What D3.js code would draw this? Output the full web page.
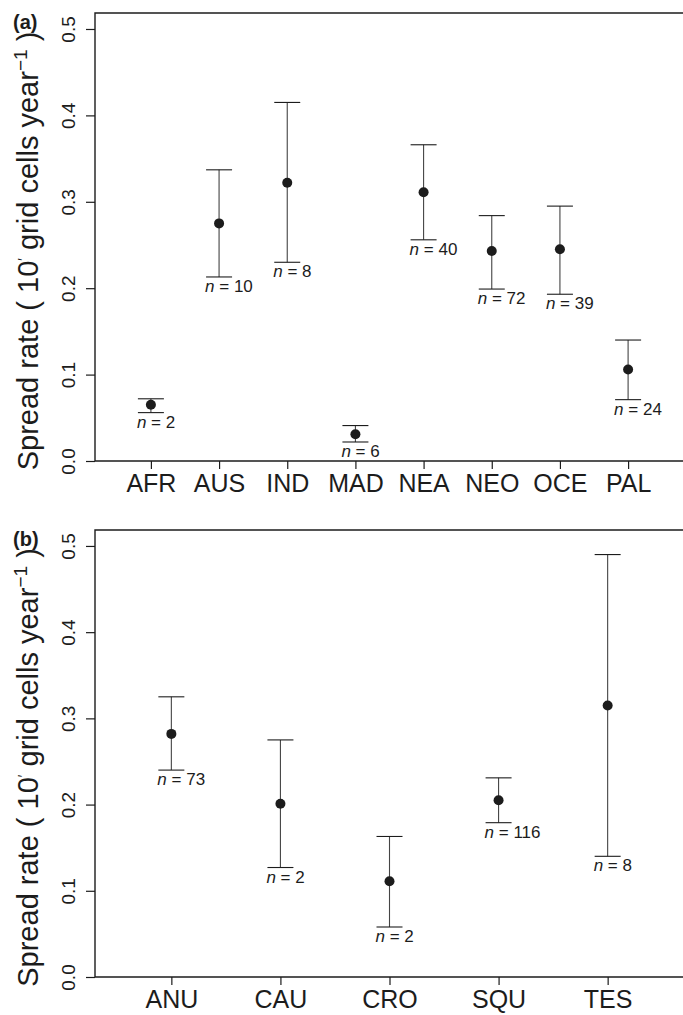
<!DOCTYPE html>
<html>
<head>
<meta charset="utf-8">
<script src="https://cdn.jsdelivr.net/npm/d3@7"></script>
<style>
  body { margin: 0; background: #fff; }
  svg { display: block; }
</style>
</head>
<body>
<div id="chart"></div>
<script>
// panel (a): biogeographic regions
const regionCats = ["AFR", "AUS", "IND", "MAD", "NEA", "NEO", "OCE", "PAL"];
const regionMean = [0.065, 0.275, 0.322, 0.031, 0.311, 0.243, 0.245, 0.106];
const regionLower = [0.056, 0.213, 0.230, 0.022, 0.256, 0.199, 0.193, 0.071];
const regionUpper = [0.072, 0.337, 0.415, 0.041, 0.366, 0.284, 0.295, 0.140];
const regionN = [2, 10, 8, 6, 40, 72, 39, 24];

// panel (b): taxonomic groups
const groupCats = ["ANU", "CAU", "CRO", "SQU", "TES"];
const groupMean = [0.282, 0.201, 0.111, 0.205, 0.315];
const groupLower = [0.240, 0.127, 0.058, 0.179, 0.140];
const groupUpper = [0.325, 0.275, 0.163, 0.231, 0.490];
const groupN = [73, 2, 2, 116, 8];

const yTicks = [0, 0.1, 0.2, 0.3, 0.4, 0.5];

const width = 683, height = 1015;
const narrow = "'Liberation Sans Narrow', 'Arial Narrow', 'Liberation Sans', Arial, sans-serif";
const sans = "'Liberation Sans', Arial, Helvetica, sans-serif";
const ink = "#1c1c1c";

const svg = d3.select("#chart").append("svg")
    .attr("width", width)
    .attr("height", height);

function panel(tag, cats, mean, lower, upper, ns, top, bottom, pad) {
    const left = 95, right = 684;
    const x = d3.scalePoint().domain(cats).range([left, right]).padding(pad);
    const y = d3.scaleLinear().domain([0, 0.5185]).range([bottom, top]);

    const g = svg.append("g");

    // frame (box cut by the right edge)
    g.append("path")
        .attr("d", "M" + (right + 5) + "," + top + "H" + left + "V" + bottom + "H" + (right + 5))
        .attr("fill", "none")
        .attr("stroke", ink)
        .attr("stroke-width", 1.4);

    // y axis
    const yAxis = g.append("g")
        .attr("transform", "translate(" + left + ",0)")
        .call(d3.axisLeft(y).tickValues(yTicks).tickSize(9).tickFormat(d3.format(".1f")));
    yAxis.select(".domain").remove();
    yAxis.selectAll(".tick line").attr("stroke", ink).attr("stroke-width", 1.2);
    yAxis.selectAll(".tick text")
        .attr("x", null).attr("dy", null)
        .attr("transform", "translate(-20,0) rotate(-90)")
        .attr("text-anchor", "middle")
        .attr("fill", ink)
        .style("font-family", narrow)
        .style("font-size", "19px");

    // x axis
    const xAxis = g.append("g")
        .attr("transform", "translate(0," + bottom + ")")
        .call(d3.axisBottom(x).tickSize(8).tickPadding(0));
    xAxis.select(".domain").remove();
    xAxis.selectAll(".tick line").attr("stroke", ink).attr("stroke-width", 1.2);
    xAxis.selectAll(".tick text")
        .attr("y", 31).attr("dy", null)
        .attr("fill", ink)
        .style("font-family", narrow)
        .style("font-size", "25px");

    const rows = cats.map((c, i) => ({ cat: c, mean: mean[i], lo: lower[i], hi: upper[i], n: ns[i] }));
    const capHalf = 13;

    const bars = g.append("g").selectAll("g").data(rows).enter().append("g");
    bars.append("line")
        .attr("x1", d => x(d.cat)).attr("x2", d => x(d.cat))
        .attr("y1", d => y(d.lo)).attr("y2", d => y(d.hi))
        .attr("stroke", "#444").attr("stroke-width", 1.1);
    bars.append("line")
        .attr("x1", d => x(d.cat) - capHalf).attr("x2", d => x(d.cat) + capHalf)
        .attr("y1", d => y(d.hi)).attr("y2", d => y(d.hi))
        .attr("stroke", ink).attr("stroke-width", 1.1);
    bars.append("line")
        .attr("x1", d => x(d.cat) - capHalf).attr("x2", d => x(d.cat) + capHalf)
        .attr("y1", d => y(d.lo)).attr("y2", d => y(d.lo))
        .attr("stroke", ink).attr("stroke-width", 1.1);
    bars.append("circle")
        .attr("cx", d => x(d.cat)).attr("cy", d => y(d.mean))
        .attr("r", 5)
        .attr("fill", ink);

    const lab = bars.append("text")
        .attr("x", d => x(d.cat) - capHalf - 1)
        .attr("y", d => y(d.lo) + 15)
        .attr("fill", ink)
        .style("font-family", sans)
        .style("font-size", "17px");
    lab.append("tspan").style("font-style", "italic").text("n");
    lab.append("tspan").text(d => " = " + d.n);

    // panel tag
    g.append("text")
        .attr("x", 13).attr("y", top + 16)
        .attr("fill", ink)
        .style("font-family", sans)
        .style("font-weight", "bold")
        .style("font-size", "20px")
        .text(tag);

    // y title, centred on the plot region
    const mid = y(0.25) + 6;
    const title = g.append("text")
        .attr("transform", "translate(38," + mid + ") rotate(-90)")
        .attr("text-anchor", "middle")
        .attr("fill", ink)
        .style("font-family", narrow)
        .style("font-size", "29px");
    title.append("tspan").text("Spread rate ( 10");
    title.append("tspan").attr("dy", -10).style("font-size", "14px").text("′");
    title.append("tspan").attr("dy", 10).text(" grid cells year");
    title.append("tspan").attr("dy", -11).style("font-size", "19px").text("−1");
    title.append("tspan").attr("dy", 11).text(" )");
}

panel("(a)", regionCats, regionMean, regionLower, regionUpper, regionN, 13, 461, 0.82);
panel("(b)", groupCats, groupMean, groupLower, groupUpper, groupN, 530, 977, 0.70);
</script>
</body>
</html>
